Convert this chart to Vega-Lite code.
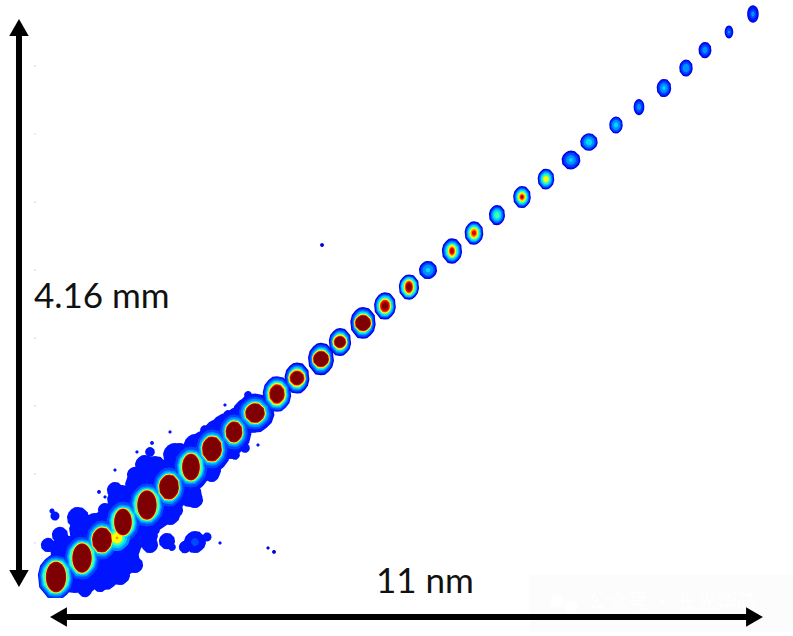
{
  "$schema": "https://vega.github.io/schema/vega-lite/v6.json",
  "width": 793,
  "height": 636,
  "padding": 0,
  "autosize": {"type": "fit", "contains": "padding"},
  "background": "white",
  "config": {"view": {"stroke": null}},
  "datasets": {
    "spots": [
      {"x":0.386,"y":0.132,"form":"round","d1":0.71},
      {"x":0.694,"y":0.243,"form":"round","d1":0.77},
      {"x":1.003,"y":0.353,"form":"round","d1":0.86},
      {"x":1.234,"y":0.5,"form":"round","d1":0.86},
      {"x":1.543,"y":0.61,"form":"round","d1":0.83},
      {"x":1.774,"y":0.72,"form":"round","d1":0.77},
      {"x":2.083,"y":0.867,"form":"round","d1":0.71},
      {"x":2.392,"y":1.0,"form":"round","d1":0.65},
      {"x":2.747,"y":1.139,"form":"round","d1":0.62},
      {"x":3.086,"y":1.272,"form":"round","d1":0.56},
      {"x":0.231,"y":0.279,"form":"round","d1":0.46},
      {"x":0.54,"y":0.426,"form":"round","d1":0.49},
      {"x":0.849,"y":0.463,"form":"round","d1":0.46},
      {"x":1.111,"y":0.647,"form":"round","d1":0.46},
      {"x":1.389,"y":0.757,"form":"round","d1":0.46},
      {"x":1.62,"y":0.867,"form":"round","d1":0.43},
      {"x":1.929,"y":0.978,"form":"round","d1":0.37},
      {"x":2.237,"y":1.051,"form":"round","d1":0.34},
      {"x":2.546,"y":1.161,"form":"round","d1":0.31},
      {"x":2.855,"y":1.235,"form":"round","d1":0.31},
      {"x":3.086,"y":1.367,"form":"round","d1":0.25},
      {"x":0.54,"y":0.059,"form":"round","d1":0.43},
      {"x":0.849,"y":0.096,"form":"round","d1":0.46},
      {"x":1.157,"y":0.206,"form":"round","d1":0.46},
      {"x":1.466,"y":0.39,"form":"round","d1":0.4},
      {"x":1.852,"y":0.537,"form":"round","d1":0.31},
      {"x":2.16,"y":0.684,"form":"round","d1":0.37},
      {"x":2.469,"y":0.867,"form":"round","d1":0.34},
      {"x":2.777,"y":1.014,"form":"round","d1":0.28},
      {"x":0.432,"y":0.515,"form":"round","d1":0.34},
      {"x":0.694,"y":0.463,"form":"round","d1":0.37},
      {"x":0.849,"y":0.573,"form":"round","d1":0.22},
      {"x":0.154,"y":0.39,"form":"round","d1":0.25},
      {"x":-0.031,"y":0.316,"form":"round","d1":0.22},
      {"x":1.003,"y":0.72,"form":"round","d1":0.25},
      {"x":1.157,"y":0.61,"form":"round","d1":0.37},
      {"x":1.312,"y":0.831,"form":"round","d1":0.25},
      {"x":1.466,"y":0.904,"form":"round","d1":0.31},
      {"x":1.543,"y":1.0,"form":"round","d1":0.15},
      {"x":1.774,"y":0.867,"form":"round","d1":0.31},
      {"x":2.006,"y":1.014,"form":"round","d1":0.22},
      {"x":2.16,"y":1.051,"form":"round","d1":0.19},
      {"x":2.392,"y":1.161,"form":"round","d1":0.15},
      {"x":2.5,"y":1.088,"form":"round","d1":0.25},
      {"x":2.747,"y":1.272,"form":"round","d1":0.15},
      {"x":2.855,"y":1.272,"form":"round","d1":0.22},
      {"x":3.055,"y":1.419,"form":"round","d1":0.12},
      {"x":0.54,"y":-0.015,"form":"round","d1":0.22},
      {"x":0.772,"y":0.022,"form":"round","d1":0.22},
      {"x":1.08,"y":0.096,"form":"round","d1":0.31},
      {"x":1.312,"y":0.169,"form":"round","d1":0.25},
      {"x":1.543,"y":0.316,"form":"round","d1":0.25},
      {"x":1.62,"y":0.426,"form":"round","d1":0.15},
      {"x":1.929,"y":0.573,"form":"round","d1":0.25},
      {"x":2.237,"y":0.647,"form":"round","d1":0.25},
      {"x":2.5,"y":0.831,"form":"round","d1":0.22},
      {"x":2.855,"y":0.978,"form":"round","d1":0.15},
      {"x":3.009,"y":1.029,"form":"round","d1":0.15},
      {"x":0.077,"y":0.529,"form":"round","d1":0.14},
      {"x":0.031,"y":0.566,"form":"round","d1":0.08},
      {"x":1.342,"y":1.0,"form":"round","d1":0.05},
      {"x":1.574,"y":1.066,"form":"round","d1":0.06},
      {"x":1.852,"y":1.147,"form":"round","d1":0.05},
      {"x":0.756,"y":0.706,"form":"round","d1":0.06},
      {"x":0.849,"y":0.669,"form":"round","d1":0.05},
      {"x":1.003,"y":0.867,"form":"round","d1":0.05},
      {"x":2.7,"y":1.345,"form":"round","d1":0.05},
      {"x":3.209,"y":1.051,"form":"round","d1":0.05},
      {"x":1.805,"y":0.345,"form":"round","d1":0.25},
      {"x":1.882,"y":0.301,"form":"round","d1":0.12},
      {"x":2.237,"y":0.338,"form":"round","d1":0.34,"d2":0.12},
      {"x":2.083,"y":0.301,"form":"round","d1":0.19},
      {"x":2.423,"y":0.375,"form":"round","d1":0.14},
      {"x":2.623,"y":0.331,"form":"round","d1":0.05},
      {"x":3.364,"y":0.294,"form":"round","d0":0.05},
      {"x":3.456,"y":0.265,"form":"round","d0":0.06},
      {"x":4.197,"y":2.521,"form":"round","d0":0.06},
      {"x":1.034,"y":0.368,"form":"round","core":"round","d3":0.4,"d4":0.31,"d5":0.24,"d6":0.17,"d7":0.04},
      {"x":0.093,"y":0.081,"form":"oval","core":"tall","d1":0.7,"d2":0.66,"d3":0.6,"d4":0.55,"d5":0.51,"d6":0.5,"d7":0.48,"d8":0.47,"d9":0.45},
      {"x":0.494,"y":0.22,"form":"oval","core":"tall","d1":0.72,"d2":0.66,"d3":0.58,"d4":0.53,"d5":0.49,"d6":0.48,"d7":0.46,"d8":0.45,"d9":0.43},
      {"x":0.802,"y":0.353,"form":"oval","core":"oval","d1":0.73,"d2":0.6,"d3":0.52,"d4":0.46,"d5":0.42,"d6":0.41,"d7":0.39,"d8":0.38,"d9":0.36},
      {"x":1.126,"y":0.485,"form":"oval","core":"tall","d1":0.76,"d2":0.63,"d3":0.54,"d4":0.49,"d5":0.45,"d6":0.44,"d7":0.42,"d8":0.41,"d9":0.39},
      {"x":1.496,"y":0.61,"form":"oval","core":"tall","d1":0.8,"d2":0.66,"d3":0.58,"d4":0.53,"d5":0.49,"d6":0.48,"d7":0.46,"d8":0.45,"d9":0.43},
      {"x":1.836,"y":0.742,"form":"oval","core":"oval","d1":0.73,"d2":0.6,"d3":0.52,"d4":0.46,"d5":0.42,"d6":0.41,"d7":0.39,"d8":0.38,"d9":0.36},
      {"x":2.175,"y":0.889,"form":"oval","core":"tall","d1":0.76,"d2":0.63,"d3":0.54,"d4":0.49,"d5":0.45,"d6":0.44,"d7":0.42,"d8":0.41,"d9":0.39},
      {"x":2.499,"y":1.022,"form":"oval","core":"oval","d1":0.73,"d2":0.6,"d3":0.52,"d4":0.46,"d5":0.42,"d6":0.41,"d7":0.39,"d8":0.38,"d9":0.36},
      {"x":2.839,"y":1.147,"form":"oval","core":"oval","d1":0.67,"d2":0.54,"d3":0.46,"d4":0.4,"d5":0.36,"d6":0.35,"d7":0.33,"d8":0.32,"d9":0.3},
      {"x":3.163,"y":1.286,"form":"round","core":"round","d1":0.6,"d2":0.5,"d3":0.44,"d4":0.38,"d5":0.34,"d6":0.33,"d7":0.31,"d8":0.3,"d9":0.28},
      {"x":3.502,"y":1.426,"form":"oval","core":"oval","d1":0.55,"d2":0.5,"d3":0.45,"d4":0.41,"d5":0.37,"d6":0.34,"d7":0.31,"d8":0.29,"d9":0.26},
      {"x":3.811,"y":1.543,"form":"oval","core":"round","d0":0.48,"d1":0.45,"d2":0.42,"d3":0.38,"d4":0.34,"d5":0.3,"d6":0.27,"d7":0.24,"d8":0.22,"d9":0.2},
      {"x":4.181,"y":1.683,"form":"oval","core":"round","d0":0.5,"d1":0.47,"d2":0.44,"d3":0.39,"d4":0.35,"d5":0.31,"d6":0.28,"d7":0.26,"d8":0.24,"d9":0.23},
      {"x":4.474,"y":1.808,"form":"oval","core":"round","d0":0.43,"d1":0.4,"d2":0.38,"d3":0.34,"d4":0.3,"d5":0.26,"d6":0.23,"d7":0.2,"d8":0.18,"d9":0.17},
      {"x":4.829,"y":1.948,"form":"oval","core":"round","d0":0.49,"d1":0.46,"d2":0.43,"d3":0.39,"d4":0.35,"d5":0.31,"d6":0.28,"d7":0.26,"d8":0.24,"d9":0.23},
      {"x":5.168,"y":2.073,"form":"oval","core":"oval","d0":0.42,"d1":0.39,"d2":0.37,"d3":0.34,"d4":0.31,"d5":0.26,"d6":0.23,"d7":0.2,"d8":0.18,"d9":0.12},
      {"x":5.538,"y":2.212,"form":"oval","core":"tall","d0":0.39,"d1":0.36,"d2":0.34,"d3":0.32,"d4":0.3,"d5":0.26,"d6":0.23,"d7":0.2,"d8":0.17,"d9":0.12},
      {"x":5.832,"y":2.337,"form":"round","d0":0.28,"d1":0.25,"d2":0.22,"d3":0.17,"d4":0.07},
      {"x":6.202,"y":2.477,"form":"oval","core":"tall","d0":0.39,"d1":0.36,"d2":0.33,"d3":0.3,"d4":0.26,"d5":0.22,"d6":0.19,"d7":0.15,"d8":0.11,"d9":0.04},
      {"x":6.541,"y":2.609,"form":"oval","core":"oval","d0":0.36,"d1":0.33,"d2":0.31,"d3":0.28,"d4":0.25,"d5":0.21,"d6":0.17,"d7":0.13,"d8":0.08},
      {"x":6.896,"y":2.741,"form":"oval","d0":0.31,"d1":0.28,"d2":0.25,"d3":0.22,"d4":0.17,"d5":0.1},
      {"x":7.282,"y":2.874,"form":"oval","core":"oval","d0":0.34,"d1":0.31,"d2":0.29,"d3":0.26,"d4":0.23,"d5":0.19,"d6":0.15,"d7":0.11,"d8":0.07,"d9":0.03},
      {"x":7.652,"y":3.006,"form":"oval","core":"round","d0":0.32,"d1":0.29,"d2":0.27,"d3":0.24,"d4":0.2,"d5":0.15,"d6":0.09},
      {"x":8.038,"y":3.146,"form":"round","d0":0.29,"d1":0.26,"d2":0.22,"d3":0.15,"d4":0.06},
      {"x":8.315,"y":3.278,"form":"round","d0":0.27,"d1":0.24,"d2":0.22,"d3":0.17,"d4":0.1},
      {"x":8.732,"y":3.403,"form":"oval","d0":0.26,"d1":0.23,"d2":0.21,"d3":0.16,"d4":0.08},
      {"x":9.087,"y":3.535,"form":"tall","d0":0.25,"d1":0.22,"d2":0.17,"d3":0.1},
      {"x":9.472,"y":3.675,"form":"oval","d0":0.28,"d1":0.25,"d2":0.21,"d3":0.15,"d4":0.06},
      {"x":9.812,"y":3.822,"form":"oval","d0":0.26,"d1":0.23,"d2":0.19,"d3":0.13},
      {"x":10.105,"y":3.954,"form":"oval","d0":0.25,"d1":0.22,"d2":0.17,"d3":0.1},
      {"x":10.475,"y":4.086,"form":"tall","d0":0.2,"d1":0.17,"d2":0.12,"d3":0.05},
      {"x":10.845,"y":4.219,"form":"tall","d0":0.27,"d1":0.23,"d2":0.15,"d3":0.08}
    ],
    "ticks": [
      {"x":-0.231,"y":0.331},{"x":-0.231,"y":0.838},{"x":-0.231,"y":1.338},{"x":-0.231,"y":1.837},
      {"x":-0.231,"y":2.337},{"x":-0.231,"y":2.837},{"x":-0.231,"y":3.337},{"x":-0.231,"y":3.837}
    ],
    "arrows": [
      {"x":-0.478,"y":0.07,"x2":-0.478,"y2":4.12,"a":"v"},
      {"x":0.131,"y":-0.213,"x2":10.869,"y2":-0.213,"a":"h"}
    ],
    "heads": [
      {"x":-0.478,"y":4.12,"head":"up"},
      {"x":-0.478,"y":0.07,"head":"down"},
      {"x":0.131,"y":-0.213,"head":"left"},
      {"x":10.869,"y":-0.213,"head":"right"}
    ],
    "labels": [
      {"x":-0.247,"y":2.139,"label":"4.16 mm"},
      {"x":5.03,"y":0.044,"label":"11 nm"}
    ]
  },
  "encoding": {
    "x": {"field": "x", "type": "quantitative", "axis": null, "scale": {"domain": [-0.771, 11.463], "nice": false, "zero": false}},
    "y": {"field": "y", "type": "quantitative", "axis": null, "scale": {"domain": [-0.353, 4.322], "nice": false, "zero": false}}
  },
  "layer": [
    {
      "data": {"name": "ticks"},
      "mark": {"type": "square", "color": "#d4d4d4", "size": 3}
    },
    {
      "data": {"name": "spots"},
      "transform": [
        {"fold": ["d0", "d1", "d2", "d3", "d4", "d5"], "as": ["level", "diam"]},
        {"filter": {"field": "diam", "gt": 0}}
      ],
      "mark": {"type": "point", "filled": true, "opacity": 1, "strokeWidth": 0},
      "encoding": {
        "size": {"field": "diam", "type": "quantitative", "legend": null, "scale": {"type": "pow", "exponent": 2, "domain": [0, 1], "range": [0, 4202]}},
        "shape": {"field": "form", "type": "nominal", "legend": null, "scale": {"domain": ["round", "oval", "tall", "up", "down", "left", "right"], "range": [
          "M0,-1L.42,-.93L.55,-.8L.9,-.48L.95,-.2L1,.1L.86,.5L.6,.76L.3,.97L0,1L-.4,.95L-.56,.8L-.92,.45L-.96,.15L-1,-.1L-.86,-.5L-.6,-.78L-.3,-.96Z",
          "M0,-1L.36,-.93L.5,-.78L.74,-.48L.76,-.2L.8,.1L.7,.5L.5,.76L.25,.97L0,1L-.34,.95L-.46,.8L-.74,.45L-.77,.15L-.8,-.1L-.7,-.5L-.48,-.78L-.25,-.96Z",
          "M0,-1C.37,-1 .66,-.55 .66,0C.66,.55 .37,1 0,1C-.37,1 -.66,.55 -.66,0C-.66,-.55 -.37,-1 0,-1Z",
          "triangle-up", "triangle-down", "triangle-left", "triangle-right"
        ]}},
        "color": {"field": "level", "type": "nominal", "legend": null, "scale": {
          "domain": ["d0", "d1", "d2", "d3", "d4", "d5", "d6", "d7", "d8", "d9"],
          "range": ["#0000d8", "#0014ff", "#0048ff", "#0090ff", "#00d8ff", "#40ffb0", "#ffff00", "#ff9000", "#e80000", "#7f0000"]
        }},
        "order": {"field": "level", "type": "ordinal", "sort": "ascending"}
      }
    },
    {
      "data": {"name": "spots"},
      "transform": [
        {"fold": ["d6", "d7", "d8", "d9"], "as": ["level", "diam"]},
        {"filter": {"field": "diam", "gt": 0}}
      ],
      "mark": {"type": "point", "filled": true, "opacity": 1, "strokeWidth": 0},
      "encoding": {
        "size": {"field": "diam", "type": "quantitative", "legend": null, "scale": {"type": "pow", "exponent": 2, "domain": [0, 1], "range": [0, 4202]}},
        "shape": {"field": "core", "type": "nominal", "legend": null},
        "color": {"field": "level", "type": "nominal", "legend": null},
        "order": {"field": "level", "type": "ordinal", "sort": "ascending"}
      }
    },
    {
      "data": {"values": [{"x": -0.771, "x2": 11.463, "y": -0.074, "y2": -0.353}]},
      "mark": {"type": "rect", "color": "white"},
      "encoding": {"x2": {"field": "x2"}, "y2": {"field": "y2"}}
    },
    {
      "data": {"values": [{"x": 7.4, "x2": 11.463, "y": 0.096, "y2": -0.323}]},
      "mark": {"type": "rect", "color": "#fcfcfc"},
      "encoding": {"x2": {"field": "x2"}, "y2": {"field": "y2"}}
    },
    {
      "data": {"values": [{"x": 7.823, "y": -0.096}, {"x": 8.039, "y": -0.14}]},
      "mark": {"type": "circle", "color": "white", "opacity": 1, "size": 170}
    },
    {
      "data": {"values": [{"x": 8.3, "y": -0.11, "label": "公众号 · 长光华芯"}]},
      "mark": {"type": "text", "align": "left", "baseline": "middle", "font": "Noto Sans CJK SC", "fontSize": 20, "color": "white"},
      "encoding": {"text": {"field": "label"}}
    },
    {
      "data": {"name": "arrows"},
      "mark": {"type": "rule", "color": "black", "strokeWidth": 6},
      "encoding": {"x2": {"field": "x2"}, "y2": {"field": "y2"}}
    },
    {
      "data": {"name": "heads"},
      "mark": {"type": "point", "filled": true, "opacity": 1, "color": "black", "strokeWidth": 0, "size": 380},
      "encoding": {"shape": {"field": "head", "type": "nominal", "legend": null}}
    },
    {
      "data": {"name": "labels"},
      "mark": {"type": "text", "align": "left", "baseline": "middle", "font": "Lato", "fontSize": 35, "color": "#111111"},
      "encoding": {"text": {"field": "label"}}
    }
  ]
}
